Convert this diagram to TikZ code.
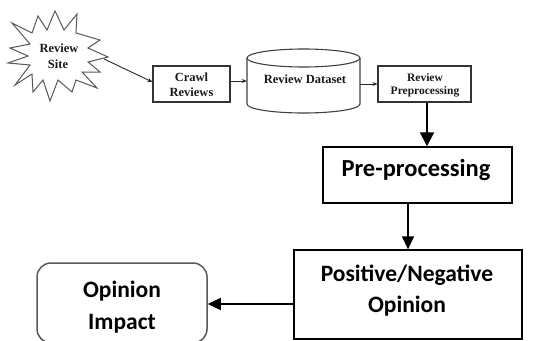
\documentclass[tikz,border=0pt]{standalone}
\usepackage{fontspec}
\setmainfont{Liberation Serif}
\newfontfamily\calib{Carlito}
\usetikzlibrary{arrows.meta}
\begin{document}
\begin{tikzpicture}[x=1pt,y=-1pt,
  smallbox/.style={draw=black!80, line width=1.1pt, minimum height=36pt, inner sep=0pt},
  bigbox/.style={draw=black, line width=1.3pt, inner sep=0pt},
  toptext/.style={font=\bfseries\fontsize{12.5}{14}\selectfont, text=black!90, inner sep=0pt, anchor=base},
  bottext/.style={font=\calib\bfseries\fontsize{23.5}{28}\selectfont, text=black, inner sep=0pt, anchor=base},
  smallarrow/.style={draw=black!85, line width=0.9pt, -{Stealth[length=5pt,width=4pt]}},
  bigarrow/.style={draw=black, line width=1.3pt, -{Triangle[length=13pt,width=12pt]}}
]
\useasboundingbox (0,0) rectangle (534,340);
\clip (0,0) rectangle (534,340);

% starburst
\draw[draw=black!65, line width=1pt, line join=miter]
  (12,23) -- (32,33) -- (38,16) -- (47,30) -- (55,11) -- (64,30) -- (77,14) -- (76,33)
  -- (100,40) -- (88,48) -- (108,57) -- (88,62) -- (100,72) -- (82,72) -- (97,88)
  -- (76,80) -- (72,92) -- (58,80) -- (50,101) -- (43,80) -- (33,92) -- (32,74)
  -- (15,85) -- (30,65) -- (8,63) -- (28,56) -- (10,48) -- (30,44) -- cycle;
\coordinate (startip) at (104,59);
\node[toptext] (starT1) at (59,52) {Review};
\node[toptext] (starT2) at (58,68) {Site};

% crawl reviews
\node[smallbox, minimum width=77pt] (crawl) at (191.5,84) {};
\node[toptext] (crawlT1) at (191.5,81.5) {Crawl};
\node[toptext] (crawlT2) at (191.5,96) {Reviews};

% cylinder
\node[minimum width=113pt, minimum height=64pt, inner sep=0pt] (cyl) at (303.5,81) {};
\draw[draw=black!75, line width=1.1pt]
  (247,58) -- (247,104) arc[start angle=180, end angle=360, x radius=56.5pt, y radius=9pt] -- (360,58);
\draw[draw=black!75, line width=1.1pt] (303.5,58) ellipse [x radius=56.5pt, y radius=9pt];
\node[toptext] (cylT) at (305,83) {Review Dataset};

% review preprocessing
\node[smallbox, minimum width=93pt] (rp) at (424.5,84) {};
\node[toptext, font=\bfseries\fontsize{11.5}{14}\selectfont] (rpT1) at (425,81.5) {Review};
\node[toptext, font=\bfseries\fontsize{11.5}{14}\selectfont] (rpT2) at (425,94.5) {Preprocessing};

% pre-processing
\node[bigbox, line width=1.5pt, minimum width=189pt, minimum height=56pt] (pre) at (417.5,175) {};
\node[bottext, font=\calib\bfseries\fontsize{24.5}{28}\selectfont] (preT) at (416,176.5) {Pre-processing};

% positive / negative
\node[bigbox, minimum width=228pt, minimum height=89pt] (pos) at (408,294.5) {};
\node[bottext] (posT1) at (407,281) {Positive/Negative};
\node[bottext] (posT2) at (407,312) {Opinion};

% opinion impact
\node[draw=black!65, line width=1.5pt, rounded corners=14pt, minimum width=170pt, minimum height=80pt, inner sep=0pt] (oi) at (122,303) {};
\node[bottext] (oiT1) at (122,297.5) {Opinion};
\node[bottext] (oiT2) at (122,329.5) {Impact};

% connectors
\draw[smallarrow] (startip) -- ([yshift=2pt]crawl.west);
\draw[smallarrow] (crawl.east |- cyl.west) -- (cyl.west);
\draw[smallarrow] (cyl.east |- rp.west) -- (rp.west);
\draw[draw=black, line width=2pt, -{Triangle[length=14pt,width=14pt]}]
  ([xshift=2.5pt]rp.south) -- ([xshift=2.5pt]rp.south |- pre.north);
\draw[bigarrow] (pos.north |- pre.south) -- (pos.north);
\draw[bigarrow] ([yshift=-9.5pt]pos.west) -- ([yshift=-9.5pt]pos.west -| oi.east);
\end{tikzpicture}
\end{document}
